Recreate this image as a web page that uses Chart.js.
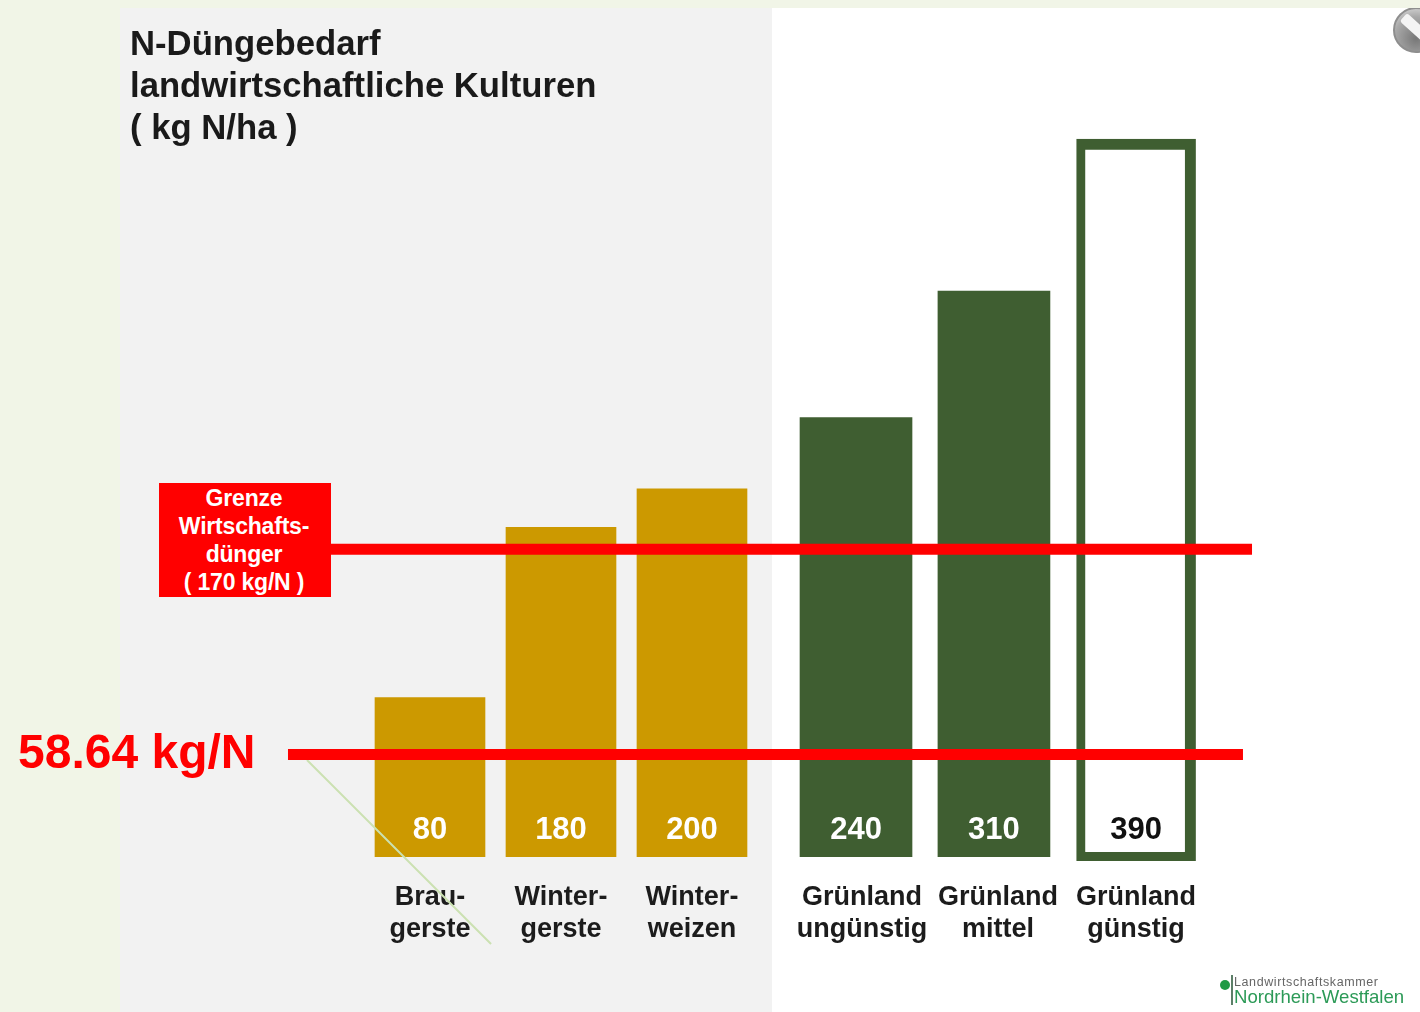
<!DOCTYPE html>
<html lang="de">
<head>
<meta charset="utf-8">
<title>N-Düngebedarf</title>
<script src="https://cdn.jsdelivr.net/npm/chart.js@4"></script>
<style>
    html, body { margin: 0; padding: 0; }
    body { width: 1420px; height: 1012px; position: relative; overflow: hidden; background: #f1f5e7; font-family: "Liberation Sans", Arial, sans-serif; font-weight: bold; }
    .abs { position: absolute; }
    #panel-grey { left: 120px; top: 8px; width: 652px; height: 1004px; background: #f2f2f2; }
    #panel-white { left: 772px; top: 8px; width: 648px; height: 1004px; background: #fff; }
    canvas { position: absolute; left: 0; top: 0; }
    #title { left: 130px; top: 22px; font-size: 34.7px; line-height: 42px; color: #1a1a1a; white-space: pre; z-index: 2; }
    #limit-box { left: 159px; top: 483px; width: 172px; height: 114px; background: #ff0000; color: #fff; font-size: 23px; line-height: 28px; text-align: center; padding-top: 1px; box-sizing: border-box; z-index: 2; letter-spacing: -0.2px; }
    #limit-box div { position: relative; left: -1px; }
    #low-label { left: 18px; top: 724px; font-size: 48px; line-height: 56px; color: #ff0000; white-space: pre; z-index: 2; }
    #icon { left: 1393px; top: 8px; width: 27px; height: 48px; overflow: hidden; z-index: 2; }
    #icon .disc { position: absolute; left: 0; top: -1px; width: 46px; height: 46px; box-sizing: border-box; border-radius: 50%; border: 2px solid #8e8e8e; background: radial-gradient(circle at 50% 70%, #777 0%, #a9a9a9 60%, #e4e4e4 100%); }
    #icon .slash { position: absolute; left: 6px; top: 15px; width: 34px; height: 11px; background: #f4f4f4; border-radius: 3px; transform: rotate(42deg); }
    #logo-dot { left: 1220px; top: 980px; width: 10px; height: 10px; border-radius: 50%; background: #1f9a45; z-index: 2; }
    #logo-bar { left: 1231px; top: 975px; width: 2px; height: 30px; background: #5c7f68; z-index: 2; }
    #logo-top { left: 1234px; top: 975px; font-size: 12.5px; line-height: 15px; font-weight: normal; color: #666; white-space: pre; letter-spacing: 0.6px; z-index: 2; }
    #logo-bottom { left: 1234px; top: 985px; font-size: 18.6px; line-height: 24px; font-weight: normal; color: #2c9a57; white-space: pre; z-index: 2; }
</style>
</head>
<body>
<div id="panel-grey" class="abs"></div>
<div id="panel-white" class="abs"></div>
<canvas id="chart" width="1420" height="1012"></canvas>
<div id="title" class="abs"></div>
<div id="limit-box" class="abs"></div>
<div id="low-label" class="abs"></div>
<div id="icon" class="abs"><div class="disc"></div><div class="slash"></div></div>
<div id="logo-dot" class="abs"></div>
<div id="logo-bar" class="abs"></div>
<div id="logo-top" class="abs">Landwirtschaftskammer</div>
<div id="logo-bottom" class="abs">Nordrhein-Westfalen</div>
<script>
/* data */
const titleLines = ['N-Düngebedarf', 'landwirtschaftliche Kulturen', '( kg N/ha )'];
const categories = [
    ['Brau-', 'gerste'],
    ['Winter-', 'gerste'],
    ['Winter-', 'weizen'],
    ['Grünland', 'ungünstig'],
    ['Grünland', 'mittel'],
    ['Grünland', 'günstig']
];
const printedValues = [80, 180, 200, 240, 310, 390];
// drawn heights differ a bit from the printed numbers (esp. Braugerste)
const drawnValues = [87, 180, 201, 240, 309, 392];
const limitBoxLines = ['Grenze', 'Wirtschafts-', 'dünger', '( 170 kg/N )'];
const limitLevel = 168;
const lowLevel = 56;
const lowLabel = '58.64 kg/N';

/* layout on the x axis, in units of one grain-bar spacing */
const barSlots = [1, 2, 3, 4.252, 5.305, 6.39];
const labelSlots = [1, 2, 3, 4.298, 5.336, 6.389];
const limitSpan = [0.244, 7.275];
const lowSpan = [-0.084, 7.206];
const leaderX = [0.061, 1.466];
const leaderY = [53, -47.5];

const GOLD = '#cc9900';
const GREEN = '#3f5e31';
const RED = '#ff0000';

document.getElementById('title').textContent = titleLines.join('\n');
document.getElementById('low-label').textContent = lowLabel;
const box = document.getElementById('limit-box');
limitBoxLines.forEach(t => {
    const d = document.createElement('div');
    d.textContent = t;
    box.appendChild(d);
});

function barPoints(from, to) {
    return barSlots.slice(from, to).map((x, i) => ({ x, y: drawnValues[from + i] }));
}

function spanLine(span, level) {
    return span.map(x => ({ x, y: level }));
}

// numbers printed at the foot of each bar
const barNumbers = {
    id: 'barNumbers',
    afterDatasetsDraw(chart) {
        const ctx = chart.ctx;
        const xs = chart.scales.x;
        const ys = chart.scales.y;
        ctx.save();
        ctx.font = 'bold 31px "Liberation Sans", Arial, sans-serif';
        ctx.textAlign = 'center';
        ctx.textBaseline = 'middle';
        printedValues.forEach((v, i) => {
            ctx.fillStyle = i === printedValues.length - 1 ? '#111' : '#fff';
            ctx.fillText(String(v), xs.getPixelForValue(barSlots[i]), ys.getPixelForValue(0) - 27);
        });
        ctx.restore();
    }
};

new Chart(document.getElementById('chart'), {
    type: 'bar',
    data: {
        datasets: [
            { label: 'Getreide', data: barPoints(0, 3), backgroundColor: GOLD, barThickness: 110, grouped: false, order: 3 },
            { label: 'Grünland', data: barPoints(3, 5), backgroundColor: GREEN, barThickness: 112, grouped: false, order: 3 },
            // outlined bar sticks out a little below the base line
            { label: 'Grünland günstig', data: barPoints(5, 6), backgroundColor: '#fff', borderColor: GREEN, borderWidth: { top: 11, left: 9, right: 11, bottom: 9 }, borderSkipped: false, barThickness: 119, base: -2, clip: false, grouped: false, order: 3 },
            { type: 'line', label: 'Grenze', data: spanLine(limitSpan, limitLevel), borderColor: RED, borderWidth: 11, borderCapStyle: 'butt', pointRadius: 0, order: 1 },
            { type: 'line', label: lowLabel, data: spanLine(lowSpan, lowLevel), borderColor: RED, borderWidth: 11, borderCapStyle: 'butt', pointRadius: 0, order: 1 },
            { type: 'line', label: 'Linie', data: leaderX.map((x, i) => ({ x, y: leaderY[i] })), borderColor: '#cbe1b2', borderWidth: 2, pointRadius: 0, clip: false, order: 2 }
        ]
    },
    plugins: [barNumbers],
    options: {
        responsive: false,
        animation: false,
        layout: { padding: 0 },
        plugins: { legend: { display: false }, tooltip: { enabled: false } },
        scales: {
            x: {
                type: 'linear',
                min: -2.2824,
                max: 8.5573,
                offset: false,
                grid: { display: false, drawTicks: false },
                border: { display: false },
                afterBuildTicks(scale) { scale.ticks = labelSlots.map(value => ({ value })); },
                afterFit(scale) { scale.height = 155; },
                ticks: {
                    autoSkip: false,
                    maxRotation: 0,
                    minRotation: 0,
                    padding: 25,
                    color: '#1c1c1c',
                    font: { family: '"Liberation Sans", Arial, sans-serif', size: 27, weight: 'bold', lineHeight: 1.185 },
                    callback: function(v, i) { return categories[i]; }
                }
            },
            y: { display: false, min: 0, max: 468 }
        }
    }
});
</script>
</body>
</html>
